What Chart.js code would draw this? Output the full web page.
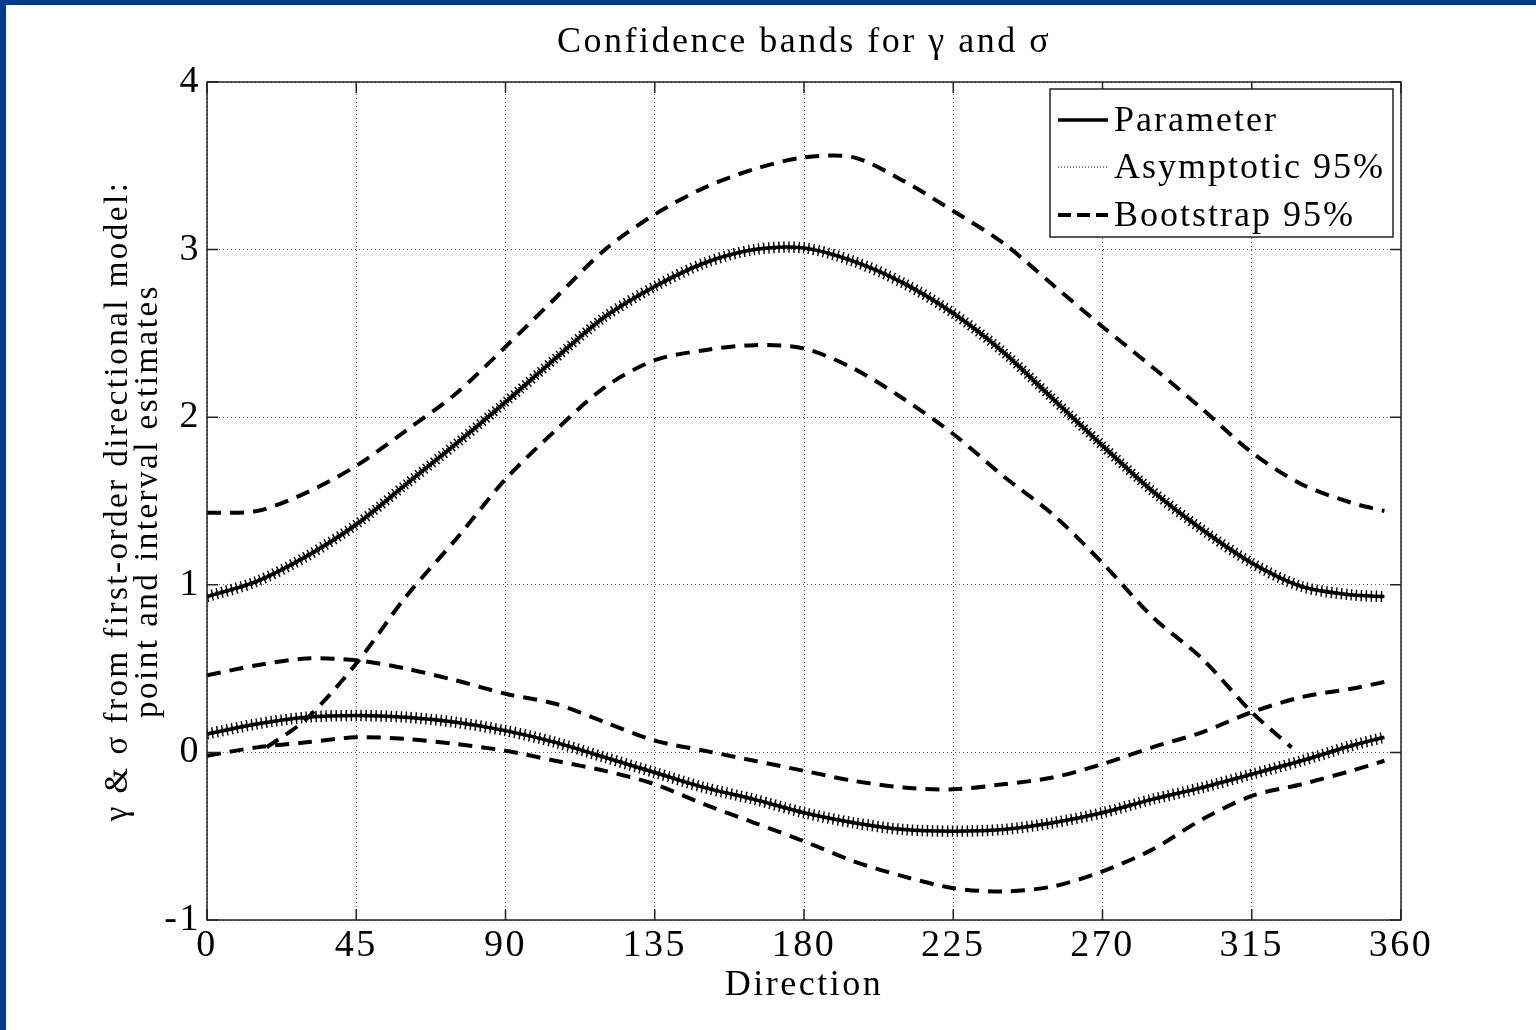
<!DOCTYPE html>
<html>
<head>
<meta charset="utf-8">
<title>Confidence bands for γ and σ</title>
<script src="https://cdn.jsdelivr.net/npm/chart.js@4.4.0/dist/chart.umd.min.js"></script>
<style>
  html, body { margin: 0; padding: 0; background: #fff; }
  #frame {
    position: absolute; left: 0; top: 0;
    width: 1530px; height: 1025px;
    border-top: 5px solid #003b89;
    border-left: 6px solid #003b89;
    background: #fff;
  }
  #chart { display: block; }
</style>
</head>
<body>
<div id="frame"><canvas id="chart" width="1530" height="1025"></canvas></div>
<script>
// Direction grid (degrees) shared by most curves
const directions = [0, 15, 30, 45, 60, 75, 90, 105, 120, 135, 150, 165, 180,
                    195, 210, 225, 240, 255, 270, 285, 300, 315, 330, 345, 355];

// gamma: point estimate, asymptotic band, bootstrap band
const gammaParam  = [0.93, 1.02, 1.17, 1.36, 1.60, 1.84, 2.09, 2.35, 2.60, 2.78, 2.92, 3.00, 3.01,
                     2.93, 2.80, 2.62, 2.39, 2.11, 1.83, 1.56, 1.33, 1.13, 0.99, 0.94, 0.93];
const gammaAsyHi  = [0.94, 1.03, 1.18, 1.37, 1.61, 1.85, 2.10, 2.36, 2.61, 2.79, 2.93, 3.01, 3.02,
                     2.94, 2.81, 2.63, 2.40, 2.12, 1.84, 1.57, 1.34, 1.14, 1.00, 0.95, 0.94];
const gammaAsyLo  = [0.92, 1.01, 1.16, 1.35, 1.59, 1.83, 2.08, 2.34, 2.59, 2.77, 2.91, 2.99, 3.00,
                     2.92, 2.79, 2.61, 2.38, 2.10, 1.82, 1.55, 1.32, 1.12, 0.98, 0.93, 0.92];
const gammaBootHi = [1.43, 1.44, 1.55, 1.71, 1.92, 2.14, 2.42, 2.71, 3.00, 3.21, 3.37, 3.48, 3.55,
                     3.55, 3.41, 3.23, 3.04, 2.79, 2.54, 2.30, 2.05, 1.79, 1.60, 1.49, 1.44];

// lower bootstrap bound for gamma only exists over part of the circle
const gammaBootLoDir = [18, 30, 45, 60, 75, 90, 105, 120, 135, 150, 165, 180, 195,
                        210, 225, 240, 255, 270, 285, 300, 315, 327];
const gammaBootLo    = [0.03, 0.20, 0.53, 0.93, 1.27, 1.63, 1.92, 2.18, 2.34, 2.40, 2.43, 2.41, 2.29,
                        2.11, 1.90, 1.65, 1.42, 1.13, 0.81, 0.56, 0.24, 0.03];

// sigma: point estimate, asymptotic band, bootstrap band
const sigmaParam  = [0.11, 0.17, 0.21, 0.22, 0.21, 0.18, 0.13, 0.06, -0.03, -0.12, -0.21, -0.28, -0.36,
                     -0.42, -0.46, -0.47, -0.46, -0.42, -0.36, -0.28, -0.21, -0.13, -0.05, 0.04, 0.09];
const sigmaAsyHi  = [0.12, 0.18, 0.22, 0.23, 0.22, 0.19, 0.14, 0.07, -0.02, -0.11, -0.20, -0.27, -0.35,
                     -0.41, -0.45, -0.46, -0.45, -0.41, -0.35, -0.27, -0.20, -0.12, -0.04, 0.05, 0.10];
const sigmaAsyLo  = [0.10, 0.16, 0.20, 0.21, 0.20, 0.17, 0.12, 0.05, -0.04, -0.13, -0.22, -0.29, -0.37,
                     -0.43, -0.47, -0.48, -0.47, -0.43, -0.37, -0.29, -0.22, -0.14, -0.06, 0.03, 0.08];
const sigmaBootHi = [0.46, 0.52, 0.56, 0.55, 0.50, 0.43, 0.35, 0.29, 0.18, 0.07, 0.01, -0.05, -0.11,
                     -0.17, -0.21, -0.22, -0.19, -0.15, -0.07, 0.03, 0.12, 0.24, 0.33, 0.38, 0.42];
const sigmaBootLo = [-0.02, 0.03, 0.06, 0.09, 0.08, 0.05, 0.01, -0.05, -0.11, -0.19, -0.31, -0.42, -0.53,
                     -0.65, -0.74, -0.81, -0.83, -0.80, -0.71, -0.58, -0.40, -0.26, -0.19, -0.11, -0.05];

const xTicks = [0, 45, 90, 135, 180, 225, 270, 315, 360];
const yTicks = [-1, 0, 1, 2, 3, 4];

const FONT = '"Liberation Serif", "DejaVu Serif", serif';
const DASH = [14, 9];

function pts(xs, ys) {
  return xs.map(function (x, i) { return { x: x, y: ys[i] }; });
}

function asymptotic(ys) {
  return {
    data: pts(directions, ys),
    borderColor: '#000',
    borderWidth: 8,
    borderDash: [1.4, 3.6],
    borderCapStyle: 'butt',
    pointRadius: 0,
    tension: 0.3,
    order: 3
  };
}

function parameter(ys) {
  return {
    data: pts(directions, ys),
    borderColor: '#000',
    borderWidth: 3.5,
    pointRadius: 0,
    tension: 0.3,
    order: 2
  };
}

function bootstrap(xs, ys) {
  return {
    data: pts(xs, ys),
    borderColor: '#000',
    borderWidth: 4,
    borderDash: DASH,
    borderCapStyle: 'butt',
    pointRadius: 0,
    tension: 0.3,
    order: 1
  };
}

// the serif face runs narrow, so open the letters up a little
const spacing = {
  id: 'spacing',
  beforeDraw(chart) {
    chart.ctx.letterSpacing = '2.5px';
  }
};

// box round the axes with short inward tick marks on every side
const axesBox = {
  id: 'axesBox',
  afterDatasetsDraw(chart) {
    const ctx = chart.ctx, a = chart.chartArea;
    const sx = chart.scales.x, sy = chart.scales.y;
    ctx.save();
    ctx.strokeStyle = '#222';
    ctx.lineWidth = 1.5;
    ctx.strokeRect(a.left, a.top, a.right - a.left, a.bottom - a.top);
    ctx.beginPath();
    xTicks.forEach(function (v) {
      const px = sx.getPixelForValue(v);
      ctx.moveTo(px, a.bottom); ctx.lineTo(px, a.bottom - 11);
      ctx.moveTo(px, a.top);    ctx.lineTo(px, a.top + 11);
    });
    yTicks.forEach(function (v) {
      const py = sy.getPixelForValue(v);
      ctx.moveTo(a.left, py);  ctx.lineTo(a.left + 11, py);
      ctx.moveTo(a.right, py); ctx.lineTo(a.right - 11, py);
    });
    ctx.stroke();
    ctx.restore();
  }
};

// heading centred over the plot
const heading = {
  id: 'heading',
  afterDraw(chart) {
    const ctx = chart.ctx, a = chart.chartArea;
    ctx.save();
    ctx.fillStyle = '#000';
    ctx.font = '36px ' + FONT;
    ctx.textAlign = 'center';
    ctx.textBaseline = 'alphabetic';
    ctx.fillText('Confidence bands for γ and σ', (a.left + a.right) / 2, a.top - 30);
    ctx.restore();
  }
};

// line-sample legend in the upper right corner
const lineLegend = {
  id: 'lineLegend',
  afterDraw(chart) {
    const ctx = chart.ctx, a = chart.chartArea;
    const left = a.right - 351, top = a.top + 7, w = 343, h = 148;
    const rows = [
      { text: 'Parameter',      width: 3.5, dash: [],      y: 31 },
      { text: 'Asymptotic 95%', width: 1,   dash: [1, 2],  y: 78 },
      { text: 'Bootstrap 95%',  width: 4,   dash: [13, 6], y: 126 }
    ];
    ctx.save();
    ctx.letterSpacing = '2px';
    ctx.fillStyle = '#fff';
    ctx.fillRect(left, top, w, h);
    ctx.strokeStyle = '#222';
    ctx.lineWidth = 1.5;
    ctx.strokeRect(left, top, w, h);
    ctx.font = '36px ' + FONT;
    ctx.textBaseline = 'middle';
    ctx.fillStyle = '#000';
    rows.forEach(function (r) {
      ctx.beginPath();
      ctx.lineWidth = r.width;
      ctx.strokeStyle = '#000';
      ctx.setLineDash(r.dash);
      ctx.moveTo(left + 8, top + r.y);
      ctx.lineTo(left + 58, top + r.y);
      ctx.stroke();
      ctx.setLineDash([]);
      ctx.fillText(r.text, left + 64, top + r.y + 2);
    });
    ctx.restore();
  }
};

new Chart(document.getElementById('chart'), {
  type: 'line',
  data: {
    datasets: [
      asymptotic(gammaAsyHi), asymptotic(gammaAsyLo),
      asymptotic(sigmaAsyHi), asymptotic(sigmaAsyLo),
      parameter(gammaParam), parameter(sigmaParam),
      bootstrap(directions, gammaBootHi), bootstrap(gammaBootLoDir, gammaBootLo),
      bootstrap(directions, sigmaBootHi), bootstrap(directions, sigmaBootLo)
    ]
  },
  options: {
    responsive: false,
    animation: false,
    devicePixelRatio: 1,
    events: [],
    layout: { padding: { top: 77, right: 135, left: 0, bottom: 0 } },
    plugins: {
      legend: { display: false },
      title: { display: false },
      tooltip: { enabled: false }
    },
    scales: {
      x: {
        type: 'linear',
        min: 0, max: 360,
        afterBuildTicks: function (s) { s.ticks = xTicks.map(function (v) { return { value: v }; }); },
        afterFit: function (s) { s.height = 110; },
        ticks: { color: '#000', padding: 3, font: { family: FONT, size: 38 } },
        grid: { color: 'rgba(0,0,0,0.65)', lineWidth: 1, drawTicks: false },
        border: { display: false, dash: [1, 3] },
        title: {
          display: true, text: 'Direction', color: '#000',
          font: { family: FONT, size: 36 }, padding: { top: 0, bottom: 23 }
        }
      },
      y: {
        min: -1, max: 4,
        afterBuildTicks: function (s) { s.ticks = yTicks.map(function (v) { return { value: v }; }); },
        afterFit: function (s) { s.width = 201; },
        ticks: { color: '#000', padding: 6, font: { family: FONT, size: 38 } },
        grid: { color: 'rgba(0,0,0,0.65)', lineWidth: 1, drawTicks: false },
        border: { display: false, dash: [1, 3] },
        title: {
          display: true,
          text: ['γ & σ from first-order directional model:', 'point and interval estimates'],
          color: '#000',
          font: { family: FONT, size: 33, lineHeight: 0.92 },
          padding: { top: 97, bottom: 0 }
        }
      }
    }
  },
  plugins: [spacing, axesBox, heading, lineLegend]
});
</script>
</body>
</html>
